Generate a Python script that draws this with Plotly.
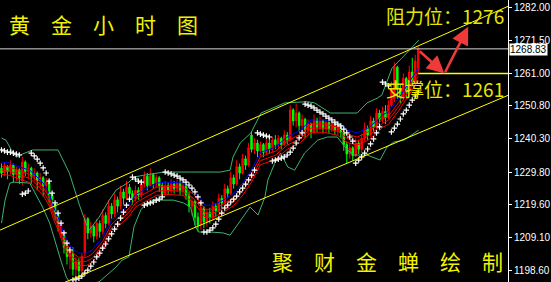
import plotly.graph_objects as go

# ---------------- data ----------------
opens = [1231.0,1229.5,1231.5,1230.0,1232.0,1229.0,1230.5,1227.0,1233.0,1230.0,
         1231.0,1228.5,1229.5,1227.0,1228.0,1225.5,1226.5,1222.5,1219.5,1216.5,
         1212.5,1210.0,1206.0,1203.0,1204.0,1199.0,1201.5,1198.5,1204.0,1215.0,
         1210.5,1212.5,1209.5,1213.5,1211.0,1216.0,1213.5,1219.0,1216.5,1221.0,
         1219.0,1223.5,1221.5,1225.0,1223.0,1221.5,1224.0,1222.5,1226.0,1228.5,
         1225.5,1229.0,1226.0,1228.0,1225.5,1223.0,1225.5,1224.0,1226.0,1224.5,
         1226.5,1224.0,1225.5,1222.5,1219.0,1220.5,1215.5,1213.0,1218.5,1214.0,
         1217.0,1215.5,1219.0,1217.5,1221.5,1220.0,1224.5,1223.0,1228.0,1226.0,
         1231.5,1229.5,1234.0,1232.0,1241.5,1237.0,1239.0,1236.5,1238.5,1236.0,
         1239.0,1237.0,1240.0,1238.5,1240.5,1238.5,1241.5,1240.0,1249.5,1246.0,
         1248.5,1244.5,1246.5,1243.0,1245.0,1242.5,1246.5,1244.0,1246.0,1243.5,
         1245.5,1243.5,1245.5,1243.0,1244.5,1242.5,1238.5,1235.5,1237.5,1235.0,
         1239.0,1237.0,1240.5,1243.5,1241.5,1246.0,1244.0,1248.5,1246.5,1249.0,
         1247.0,1251.0,1253.0,1263.0,1256.0,1253.5,1259.5,1255.5,1261.5,1258.5,
         1262.0]
highs = [1232.5,1233.0,1232.0,1233.5,1232.5,1231.5,1231.0,1234.6,1233.5,1232.5,
         1231.5,1231.0,1230.0,1229.5,1228.5,1228.0,1227.0,1223.0,1219.8,1216.6,
         1213.5,1210.3,1207.0,1205.0,1206.0,1203.0,1202.5,1204.0,1216.5,1215.5,
         1214.0,1213.0,1215.0,1214.5,1218.0,1217.0,1221.0,1220.0,1223.0,1222.0,
         1225.5,1224.5,1227.0,1226.0,1224.0,1225.5,1225.0,1226.5,1230.0,1229.5,
         1231.0,1229.5,1229.0,1228.5,1226.5,1227.0,1226.5,1227.5,1227.0,1227.5,
         1227.0,1226.5,1226.0,1223.5,1222.0,1221.0,1217.0,1220.5,1219.0,1218.0,
         1218.5,1220.5,1220.0,1223.0,1222.5,1226.0,1225.5,1230.0,1229.0,1233.5,
         1232.5,1235.5,1235.0,1239.0,1242.5,1240.5,1240.0,1239.5,1239.0,1240.5,
         1240.0,1241.0,1241.5,1241.5,1241.0,1243.0,1242.5,1251.0,1250.0,1251.5,
         1249.0,1248.0,1247.0,1246.5,1245.5,1248.0,1247.0,1247.5,1246.5,1247.0,
         1246.0,1246.0,1245.5,1245.0,1244.5,1243.0,1239.5,1239.0,1238.0,1240.5,
         1240.0,1242.0,1245.5,1244.5,1247.5,1247.0,1250.0,1249.5,1250.5,1251.0,
         1252.5,1258.5,1264.5,1263.5,1257.5,1261.0,1260.0,1263.5,1266.0,1267.0,
         1269.6]
lows = [1228.0,1228.5,1227.5,1229.0,1226.5,1227.0,1226.0,1225.5,1228.5,1227.5,
        1226.0,1227.0,1224.0,1225.0,1222.0,1223.5,1220.0,1218.5,1214.5,1211.0,
        1209.0,1204.0,1200.5,1199.0,1197.0,1196.5,1197.0,1197.5,1203.0,1208.5,
        1209.0,1207.5,1208.5,1209.0,1210.0,1212.0,1213.0,1215.0,1215.5,1217.0,
        1218.0,1219.5,1221.0,1221.5,1219.5,1220.5,1221.0,1221.5,1225.0,1224.0,
        1225.0,1224.5,1225.0,1223.5,1221.5,1222.0,1222.5,1223.0,1223.0,1223.5,
        1222.5,1222.5,1221.0,1217.0,1216.0,1213.0,1211.0,1211.5,1212.0,1212.5,
        1213.5,1214.5,1215.5,1217.0,1218.0,1219.5,1221.5,1222.5,1224.5,1225.5,
        1227.5,1229.0,1230.5,1231.5,1236.0,1235.5,1234.5,1235.0,1234.5,1235.5,
        1235.5,1236.0,1237.0,1237.5,1237.0,1238.0,1238.5,1239.5,1244.5,1244.0,
        1242.5,1243.0,1240.5,1241.5,1240.5,1242.0,1242.5,1243.0,1242.0,1242.5,
        1242.0,1242.5,1241.5,1241.5,1240.5,1236.5,1232.6,1234.0,1233.5,1234.5,
        1235.5,1236.0,1239.5,1240.0,1241.0,1242.5,1243.5,1244.0,1245.5,1245.0,
        1246.5,1250.5,1252.0,1253.0,1251.5,1252.5,1253.5,1255.0,1257.0,1257.5,
        1261.0]
closes = [1229.5,1231.5,1230.0,1232.0,1229.0,1230.5,1228.0,1233.0,1230.0,1231.0,
          1228.5,1229.5,1227.0,1228.0,1225.5,1226.5,1222.5,1221.0,1217.0,1213.5,
          1213.4,1206.0,1203.0,1204.5,1199.0,1201.5,1198.5,1203.0,1215.0,1210.5,
          1212.5,1209.5,1213.5,1211.0,1216.0,1213.5,1219.0,1216.5,1221.0,1219.0,
          1223.5,1221.5,1225.0,1223.0,1221.5,1224.0,1222.5,1226.0,1228.5,1225.5,
          1229.0,1226.0,1228.0,1225.5,1223.0,1225.5,1224.0,1226.0,1224.5,1226.5,
          1224.0,1225.5,1222.5,1219.0,1220.5,1215.5,1213.0,1218.5,1214.0,1217.0,
          1215.5,1219.0,1217.5,1221.5,1220.0,1224.5,1223.0,1228.0,1226.0,1231.5,
          1229.5,1234.0,1232.0,1237.5,1237.0,1239.0,1236.5,1238.5,1236.0,1239.0,
          1237.0,1240.0,1238.5,1240.5,1238.5,1241.5,1240.0,1249.5,1246.0,1248.5,
          1244.5,1246.5,1243.0,1245.0,1242.5,1246.5,1244.0,1246.0,1243.5,1245.5,
          1243.5,1245.5,1243.0,1244.5,1242.5,1238.5,1235.5,1237.5,1235.0,1239.0,
          1237.0,1240.5,1243.5,1241.5,1246.0,1244.0,1248.5,1246.5,1249.0,1247.0,
          1251.0,1256.0,1263.0,1256.0,1253.5,1259.5,1255.5,1261.5,1258.5,1265.0,
          1268.83]
bar_index = list(range(len(closes)))

# Parabolic SAR (one value per bar)
sar = [1236.8,1236.5,1236.1,1236.1,1235.8,1235.5,1235.2,1222.8,1223.1,1223.8,
       1235.8,1234.9,1233.9,1232.6,1231.1,1229.5,1226.9,1223.1,1220.0,1216.8,
       1213.6,1210.5,1207.3,1205.1,1195.6,1195.9,1196.2,1196.8,1197.8,1198.7,
       1200.0,1201.3,1202.9,1204.1,1205.7,1207.0,1208.6,1210.2,1211.7,1213.3,
       1215.2,1217.1,1219.3,1221.2,1228.2,1227.6,1226.9,1226.6,1219.3,1219.7,
       1220.0,1220.3,1220.9,1221.2,1221.9,1229.8,1229.5,1229.2,1228.8,1228.5,
       1227.9,1227.3,1226.6,1225.7,1224.7,1223.5,1221.9,1220.0,1210.8,1210.8,
       1211.4,1212.1,1213.3,1214.9,1216.8,1218.4,1219.3,1220.3,1221.2,1222.2,
       1223.5,1224.7,1226.0,1227.3,1228.8,1230.4,1242.2,1241.8,1241.5,1241.2,
       1240.9,1233.3,1233.6,1233.9,1234.2,1234.6,1235.2,1236.1,1237.4,1239.0,
       1240.6,1242.2,1251.3,1251.0,1250.7,1250.1,1249.4,1248.8,1248.2,1247.5,
       1246.9,1246.3,1245.6,1245.0,1244.4,1243.4,1242.2,1240.9,1239.6,1232.6,
       1233.6,1234.6,1235.8,1237.1,1238.7,1240.3,1242.2,1244.1,1258.3,1257.7,
       1257.1,1242.5,1243.7,1245.0,1246.6,1248.2,1249.4,1251.0,1252.6,1253.9,
       1255.1]

# moving-average ribbon (sampled along the bars)
ribbon_x = [0,3,6,9.5,12,14,16,17.5,19,20.5,22,23.5,26,28.5,30.5,34,37,40.5,43,45,
            48,52,55.5,61,64.5,67,68.5,71,74.5,78,81,84,87,92,96,100.5,104,108.5,113,116,
            119.5,123,126.5,128,130,133.5,137,140]
ma_blue = [1233.0,1232.6,1231.4,1230.4,1228.2,1226.3,1223.1,1218.7,1215.5,1211.4,
           1208.2,1205.7,1204.1,1204.1,1205.1,1209.2,1214.6,1217.8,1219.8,1222.6,
           1224.1,1226.3,1226.6,1226.3,1224.1,1220.9,1219.3,1219.3,1220.9,1223.1,
           1226.3,1230.5,1236.0,1237.7,1240.9,1243.1,1246.3,1246.3,1245.3,1243.1,
           1242.2,1243.7,1246.3,1247.9,1248.8,1253.2,1258.3,1262.7]
ma_red1 = [1231.7,1231.3,1230.1,1229.1,1226.9,1225.0,1221.8,1217.4,1214.2,1210.1,
           1206.9,1204.4,1202.8,1202.8,1203.8,1207.9,1213.3,1216.5,1218.5,1221.3,
           1222.8,1225.0,1225.3,1225.0,1222.8,1219.6,1218.0,1218.0,1219.6,1221.8,
           1225.0,1229.2,1234.7,1236.4,1239.6,1241.8,1245.0,1245.0,1244.0,1241.8,
           1240.9,1242.4,1245.0,1246.6,1247.5,1251.9,1257.0,1261.4]
ma_red2 = [1230.4,1230.0,1228.8,1227.8,1225.6,1223.7,1220.5,1216.1,1212.9,1208.8,
           1205.6,1203.1,1201.5,1201.5,1202.5,1206.6,1212.0,1215.2,1217.2,1220.0,
           1221.5,1223.7,1224.0,1223.7,1221.5,1218.3,1216.7,1216.7,1218.3,1220.5,
           1223.7,1227.9,1233.4,1235.1,1238.3,1240.5,1243.7,1243.7,1242.7,1240.5,
           1239.6,1241.1,1243.7,1245.3,1246.2,1250.6,1255.7,1260.1]
ma_red3 = [1229.1,1228.7,1227.5,1226.5,1224.3,1222.4,1219.2,1214.8,1211.6,1207.5,
           1204.3,1201.8,1200.2,1200.2,1201.2,1205.3,1210.7,1213.9,1215.9,1218.7,
           1220.2,1222.4,1222.7,1222.4,1220.2,1217.0,1215.4,1215.4,1217.0,1219.2,
           1222.4,1226.6,1232.1,1233.8,1237.0,1239.2,1242.4,1242.4,1241.4,1239.2,
           1238.3,1239.8,1242.4,1244.0,1244.9,1249.3,1254.4,1258.8]

# Bollinger bands (sampled)
bb_up_x = [0,1.5,3.5,5,7,10.5,19,22.8,26.2,28.5,29.5,32.8,36.2,38.5,42.8,44.5,47.8,54.5,
           63.5,67.8,73.5,76.8,77.8,80.2,83.8,87.2,95.2,102.8,105.2,110.5,115.2,119.5,
           122.8,126.2,127.8,131.2,134.5,137.8,140.2]
bb_up = [1240.6,1239.9,1236.5,1234.5,1235.5,1236.8,1236.8,1229.5,1219.3,1213.3,1211.4,
         1215.5,1220.9,1224.1,1226.6,1228.2,1228.8,1229.8,1229.8,1229.8,1229.8,1230.4,
         1234.6,1239.0,1242.2,1248.5,1251.7,1252.1,1251.7,1248.5,1248.5,1248.5,1251.7,
         1253.2,1254.2,1262.7,1265.9,1269.1,1271.6]
bb_lo_x = [0,1.2,2.8,4,9.5,13.8,16.2,18.5,20.2,21.8,23.5,27.2,32.8,38.5,40.5,42.8,44.5,
           46.8,48.8,51.2,57.8,61.2,63.5,65.2,66.2,70.2,74.5,76.8,78.8,81.2,83.5,86.2,
           88.5,89.5,91.8,93.8,96.2,98.5,101.8,106.2,109.5,112.8,116.2,118.5,122.8,
           127.2,129.5,131.8,135.2,140.2]
bb_lo = [1213.6,1220.9,1226.3,1226.6,1226.3,1218.7,1213.6,1206.0,1201.0,1196.5,1194.0,
         1194.0,1195.0,1199.7,1201.9,1202.9,1212.4,1217.8,1220.0,1220.9,1220.9,1220.0,
         1218.7,1212.4,1210.8,1210.8,1210.5,1209.8,1212.4,1215.5,1218.7,1216.2,1221.9,
         1227.3,1232.6,1235.8,1231.4,1230.4,1235.8,1239.9,1240.9,1240.9,1236.8,1235.2,
         1235.2,1233.6,1237.7,1239.3,1239.9,1243.1]

# levels, channel and annotations
price_ticks = [1282.00, 1271.50, 1261.00, 1250.80, 1240.30, 1229.80, 1219.60, 1209.10, 1198.60]
last_price = 1268.83
support = 1261.0
resistance = 1276.0
channel_upper = [(-0.5, 1211.4), (170.17, 1282.3)]
channel_lower = [(-0.5, 1186.2), (170.17, 1254.1)]
arrow_path = [(140.0, 1268.5), (148.8, 1261.0), (156.8, 1275.8)]
title_text = "黄\u3000金\u3000小\u3000时\u3000图"
credit_text = "聚\u3000财\u3000金\u3000蝉\u3000绘\u3000制"
resist_text = "阻力位：1276"
support_text = "支撑位：1261"

# ---------------- figure ----------------
X_MIN, X_MAX = -0.5, 170.17
Y_MIN, Y_MAX = 1194.96, 1284.31
CJK = "Noto Sans CJK SC"
YEL = "#f2f200"

fig = go.Figure()

fig.add_trace(go.Scatter(x=bb_up_x, y=bb_up, mode="lines",
                         line=dict(color="#3cb371", width=1), hoverinfo="skip"))
fig.add_trace(go.Scatter(x=bb_lo_x, y=bb_lo, mode="lines",
                         line=dict(color="#3cb371", width=1), hoverinfo="skip"))

fig.add_trace(go.Candlestick(
    x=bar_index, open=opens, high=highs, low=lows, close=closes,
    increasing=dict(line=dict(color="#ff0000", width=1), fillcolor="#ff0000"),
    decreasing=dict(line=dict(color="#00ff00", width=1), fillcolor="#00ff00"),
    whiskerwidth=0, hoverinfo="skip"))

for vals, col in [(ma_red3, "#ff0000"), (ma_red2, "#ff0000"), (ma_red1, "#ff0000"), (ma_blue, "#0000ff")]:
    fig.add_trace(go.Scatter(x=ribbon_x, y=vals, mode="lines",
                             line=dict(color=col, width=1), hoverinfo="skip"))

fig.add_trace(go.Scatter(x=bar_index, y=sar, mode="markers",
                         marker=dict(symbol="cross-thin", size=4, color="white",
                                     line=dict(color="white", width=1.2)),
                         hoverinfo="skip"))

shapes = [
    dict(type="line", xref="x", yref="y", x0=channel_upper[0][0], y0=channel_upper[0][1],
         x1=channel_upper[1][0], y1=channel_upper[1][1], line=dict(color="#ffff00", width=1)),
    dict(type="line", xref="x", yref="y", x0=channel_lower[0][0], y0=channel_lower[0][1],
         x1=channel_lower[1][0], y1=channel_lower[1][1], line=dict(color="#ffff00", width=1)),
    dict(type="line", xref="paper", yref="y", x0=0, x1=1, y0=last_price, y1=last_price,
         line=dict(color="#d8d8d8", width=1)),
    dict(type="line", xref="x", yref="y", x0=arrow_path[0][0], x1=X_MAX, y0=support, y1=support,
         line=dict(color="#ffff00", width=1.5)),
]

annotations = []
for (x0, y0), (x1, y1) in zip(arrow_path[:-1], arrow_path[1:]):
    annotations.append(dict(x=x1, y=y1, ax=x0, ay=y0, xref="x", yref="y", axref="x", ayref="y",
                            text="", showarrow=True, arrowhead=2, arrowsize=1.4,
                            arrowwidth=2.5, arrowcolor="#f03a3a"))

annotations += [
    dict(x=104, y=24, xref="paper", yref="paper", text=title_text, showarrow=False),
    dict(x=391, y=261, text=credit_text, showarrow=False),
    dict(x=449, y=15, text=resist_text, showarrow=False),
    dict(x=449, y=89, text=support_text, showarrow=False),
]
# place the text annotations by pixel position inside the 512x282 plot area
W_PLOT, H_PLOT = 512.0, 282.0
for a in annotations[-4:]:
    a["x"] = a["x"] / W_PLOT
    a["y"] = 1 - a["y"] / H_PLOT
    a.update(xref="paper", yref="paper", xanchor="center", yanchor="middle",
             font=dict(family=CJK, size=21, color=YEL))
annotations[-2]["font"] = dict(family=CJK, size=19, color="#e6e600")
annotations[-1]["font"] = dict(family=CJK, size=19, color="#e6e600")

annotations.append(dict(x=1, y=last_price, xref="paper", yref="y", xanchor="left",
                        yanchor="middle", xshift=1, yshift=-1, text=f"{last_price:.2f}",
                        showarrow=False, bgcolor="white", borderpad=0,
                        font=dict(family="Liberation Sans", size=10, color="black")))

fig.update_layout(
    width=551, height=282,
    margin=dict(l=0, r=39, t=0, b=0),
    paper_bgcolor="black", plot_bgcolor="black",
    showlegend=False,
    shapes=shapes, annotations=annotations,
    xaxis=dict(range=[X_MIN, X_MAX], visible=False, rangeslider=dict(visible=False),
               fixedrange=True),
    yaxis=dict(range=[Y_MIN, Y_MAX], side="right", showgrid=False, zeroline=False,
               showline=True, linecolor="white", linewidth=1,
               ticks="outside", ticklen=3, tickcolor="white",
               tickvals=price_ticks, ticktext=[f"{v:.2f}" for v in price_ticks],
               tickfont=dict(family="Liberation Sans", size=10, color="white"),
               fixedrange=True),
)

fig.write_html("out.html", config={"displayModeBar": False})
